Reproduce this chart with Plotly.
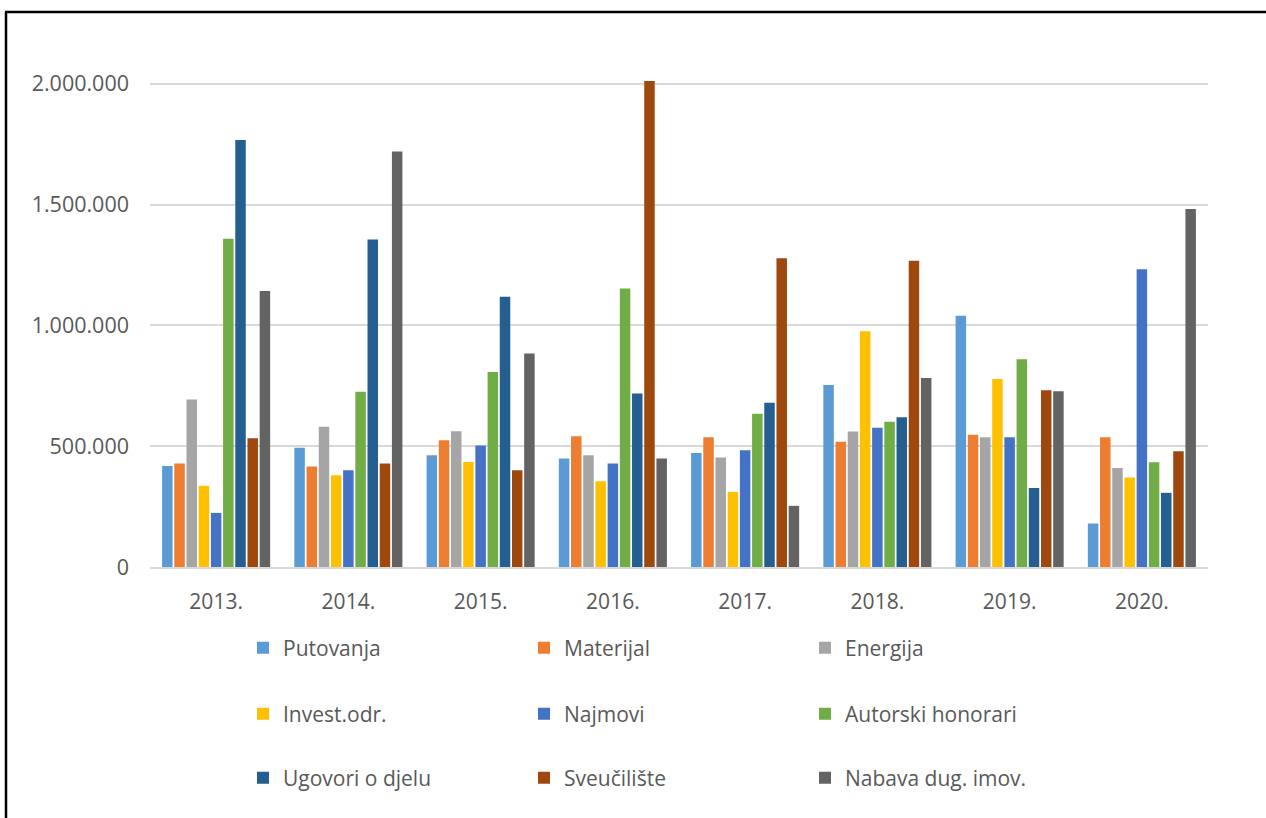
import plotly.graph_objects as go

years = ["2013.", "2014.", "2015.", "2016.", "2017.", "2018.", "2019.", "2020."]

putovanja = [418000, 494000, 463000, 449000, 472000, 753000, 1040000, 180000]
materijal = [428000, 416000, 525000, 541000, 537000, 518000, 547000, 537000]
energija = [693000, 581000, 562000, 463000, 453000, 561000, 537000, 410000]
invest_odr = [336000, 380000, 435000, 355000, 311000, 976000, 778000, 370000]
najmovi = [224000, 400000, 503000, 428000, 483000, 576000, 537000, 1232000]
autorski = [1359000, 725000, 807000, 1153000, 634000, 601000, 860000, 434000]
ugovori = [1768000, 1356000, 1119000, 718000, 680000, 620000, 327000, 307000]
sveuciliste = [533000, 428000, 400000, 2012000, 1278000, 1268000, 732000, 479000]
nabava = [1142000, 1720000, 884000, 449000, 253000, 782000, 728000, 1482000]

y_tickvals = [0, 500000, 1000000, 1500000, 2000000]
y_ticktext = ["0", "500.000", "1.000.000", "1.500.000", "2.000.000"]

series = [
    ("Putovanja", putovanja, "#5B9BD5", "legend"),
    ("Materijal", materijal, "#ED7D31", "legend"),
    ("Energija", energija, "#A5A5A5", "legend"),
    ("Invest.odr.", invest_odr, "#FFC000", "legend2"),
    ("Najmovi", najmovi, "#4472C4", "legend2"),
    ("Autorski honorari", autorski, "#70AD47", "legend2"),
    ("Ugovori o djelu", ugovori, "#255E91", "legend3"),
    ("Sveučilište", sveuciliste, "#9E480E", "legend3"),
    ("Nabava dug. imov.", nabava, "#636363", "legend3"),
]

W, H = 1266, 818
ML, MR, MT, MB = 150, 58, 79, 251

fig = go.Figure()
for name, vals, col, lg in series:
    fig.add_trace(go.Bar(x=years, y=vals, name=name, marker_color=col,
                         marker_line_width=0, legend=lg))

font_family = "Open Sans"
txt_col = "#595959"

def leg(ypix):
    return dict(orientation="h", xref="container", yref="container",
                x=243 / W, xanchor="left", y=1 - ypix / H, yanchor="middle",
                entrywidth=236, entrywidthmode="pixels",
                font=dict(family=font_family, size=21, color=txt_col),
                bgcolor="rgba(0,0,0,0)", itemclick=False)

fig.update_layout(
    width=W, height=H,
    margin=dict(l=ML, r=MR, t=MT, b=MB, autoexpand=False),
    paper_bgcolor="#FFFFFF", plot_bgcolor="#FFFFFF",
    barmode="group", bargap=0.17, bargroupgap=0.14,
    font=dict(family=font_family, size=21, color=txt_col),
    legend=leg(648), legend2=leg(714), legend3=leg(778),
    showlegend=True,
)
fig.update_xaxes(showgrid=False, showline=True, linecolor="#D9D9D9", linewidth=1.5,
                 ticks="", ticklabelstandoff=15,
                 tickfont=dict(family=font_family, size=21, color=txt_col))
fig.update_yaxes(range=[0, 2020000], tickvals=y_tickvals, ticktext=y_ticktext,
                 showgrid=True, gridcolor="#D9D9D9", gridwidth=1.5,
                 zeroline=False, showline=False, ticks="", ticklabelstandoff=20,
                 tickfont=dict(family=font_family, size=21.5, color=txt_col))

# frame lines (top and left) in paper coordinates
pw = W - ML - MR
ph = H - MT - MB
def px(xp):
    return (xp - ML) / pw
def py(yp):
    return (H - MB - yp) / ph
fig.add_shape(type="line", xref="paper", yref="paper", x0=px(5), x1=px(1266),
              y0=py(12), y1=py(12), line=dict(color="#000000", width=2.5))
fig.add_shape(type="line", xref="paper", yref="paper", x0=px(6), x1=px(6),
              y0=py(12), y1=py(818), line=dict(color="#000000", width=2.5))

fig.write_html("out.html", config={"displayModeBar": False},
               post_script="document.body.style.margin='0';document.body.style.overflow='hidden';")
